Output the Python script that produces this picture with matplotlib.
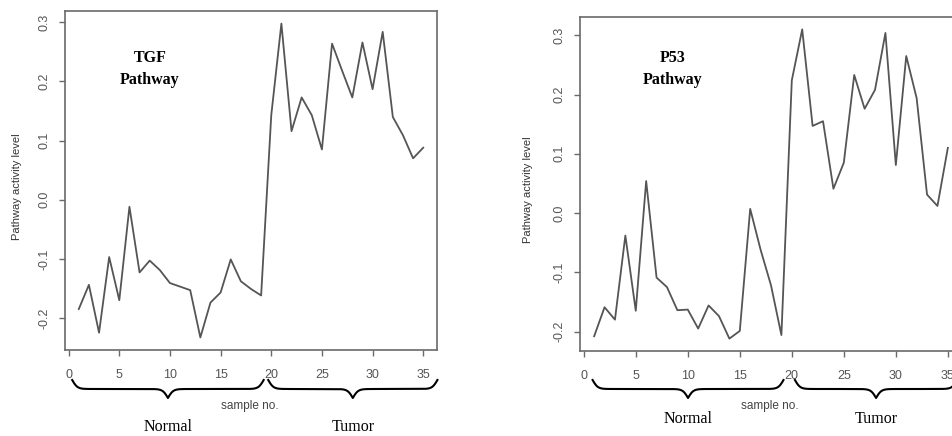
import numpy as np
import matplotlib
matplotlib.use("Agg")
import matplotlib.pyplot as plt

# ---------------- data ----------------
samples = list(range(1, 36))
tgf_values = [-0.185, -0.144, -0.225, -0.097, -0.170, -0.012, -0.123, -0.103, -0.119,
              -0.141, -0.147, -0.153, -0.233, -0.174, -0.157, -0.101, -0.138, -0.151,
              -0.162, 0.143, 0.298, 0.116, 0.173, 0.143, 0.085, 0.264, 0.218, 0.173,
              0.266, 0.187, 0.284, 0.140, 0.109, 0.070, 0.088]
p53_values = [-0.208, -0.159, -0.180, -0.038, -0.165, 0.054, -0.109, -0.125, -0.164,
              -0.163, -0.195, -0.156, -0.174, -0.212, -0.199, 0.007, -0.062, -0.122,
              -0.206, 0.224, 0.310, 0.147, 0.155, 0.041, 0.085, 0.233, 0.176, 0.208,
              0.304, 0.081, 0.265, 0.194, 0.031, 0.012, 0.110]
x_ticks = [0, 5, 10, 15, 20, 25, 30, 35]
y_ticks = [-0.2, -0.1, 0.0, 0.1, 0.2, 0.3]
titles = [["TGF", "Pathway"], ["P53", "Pathway"]]
group_labels = ["Normal", "Tumor"]

W, H = 952, 436
fig = plt.figure(figsize=(W / 100, H / 100), dpi=100)

def fx(px):
    return px / W

def fy(py):
    return 1 - py / H

# layout (pixels)
panels = [
    dict(box=(65, 11, 437, 350), values=tgf_values, title_x=150, ylab_x=17,
         braces=[(0.35, 19.25), (19.7, 36.4)], sample_x=250, group_y=427),
    dict(box=(580, 17, 962, 351), values=p53_values, title_x=673, ylab_x=528,
         braces=[(0.85, 19.2), (20.3, 35.9)], sample_x=770, group_y=419),
]

line_col = "#555555"
spine_col = "#6a6a6a"
tick_col = "#555555"

def brace_path(px0, px1, ytop, ybot, s=2.6):
    L = (px1 - px0) / 2.0
    t = np.linspace(0, L, 200)
    half = 1 / (1 + np.exp(-t / s)) + 1 / (1 + np.exp(-(t - L) / s)) - 0.5
    full = np.concatenate([half, half[::-1]])
    xs = np.concatenate([px0 + t, px0 + L + t])
    ys = ytop + (ybot - ytop) * full
    return xs, ys

for i, p in enumerate(panels):
    x0, y0, x1, y1 = p["box"]
    ax = fig.add_axes([fx(x0), fy(y1), (x1 - x0) / W, (y1 - y0) / H])
    ax.plot(samples, p["values"], color=line_col, lw=1.3)
    ax.margins(x=0.04, y=0.04)
    ax.set_xticks(x_ticks)
    ax.set_yticks(y_ticks)
    ax.set_xticklabels([str(v) for v in x_ticks])
    ax.set_yticklabels(["%.1f" % v for v in y_ticks], rotation=90, va="center")
    for sp in ax.spines.values():
        sp.set_color(spine_col)
        sp.set_linewidth(1.2)
    ax.tick_params(axis="both", direction="out", length=4.5, width=1.0,
                   color=spine_col, labelcolor=tick_col, labelsize=9)
    ax.tick_params(axis="x", pad=9)
    ax.tick_params(axis="y", pad=6)
    for lab in ax.get_xticklabels() + ax.get_yticklabels():
        lab.set_family("Liberation Sans")

    # title inside plot
    fig.text(fx(p["title_x"]), fy(58), titles[i][0], ha="center", va="center",
             family="Liberation Serif", fontweight="bold", fontsize=11.5)
    fig.text(fx(p["title_x"]), fy(80), titles[i][1], ha="center", va="center",
             family="Liberation Serif", fontweight="bold", fontsize=11.5)

    # y label
    fig.text(fx(p["ylab_x"]), fy((y0 + y1) / 2 + 6), "Pathway activity level",
             rotation=90, ha="center", va="center", family="Liberation Sans",
             fontsize=8, color="#333333")

    # sample no.
    fig.text(fx(p["sample_x"]), fy(406), "sample no.", ha="center", va="center",
             family="Liberation Sans", fontsize=8.5, color="#444444")

    # braces and group labels
    fig.canvas.draw()
    for j, (a, b) in enumerate(p["braces"]):
        pa = ax.transData.transform((a, 0))[0]
        pb = ax.transData.transform((b, 0))[0]
        xs, ys = brace_path(pa, pb, 380, 398)
        fig.add_artist(plt.Line2D(xs / W, 1 - ys / H, color="black", lw=1.5,
                                  transform=fig.transFigure))
        fig.text(fx((pa + pb) / 2), fy(p["group_y"]), group_labels[j],
                 ha="center", va="center", family="Liberation Serif", fontsize=11.5)

fig.savefig("out.png", dpi=100)
